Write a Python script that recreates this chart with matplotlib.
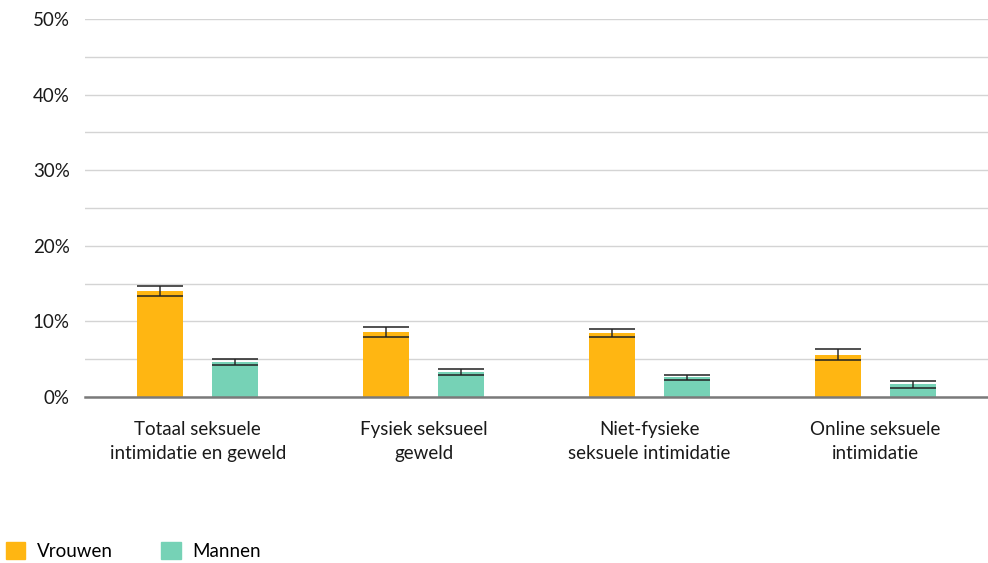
import matplotlib
matplotlib.use("Agg")
import matplotlib.pyplot as plt
import numpy as np
from matplotlib.patches import Patch

categories = ["Totaal seksuele\nintimidatie en geweld", "Fysiek seksueel\ngeweld",
              "Niet-fysieke\nseksuele intimidatie", "Online seksuele\nintimidatie"]
vrouwen = [14.0, 8.6, 8.5, 5.6]
vrouwen_lo = [13.4, 8.0, 7.9, 4.85]
vrouwen_hi = [14.7, 9.2, 9.0, 6.35]
mannen = [4.6, 3.3, 2.6, 1.7]
mannen_lo = [4.2, 2.9, 2.3, 1.2]
mannen_hi = [5.0, 3.7, 2.95, 2.1]
yticks = [0, 10, 20, 30, 40, 50]
ytick_labels = ["0%", "10%", "20%", "30%", "40%", "50%"]

c_v = "#FFB612"
c_m = "#76D2B6"

plt.rcParams['font.family'] = ['Lato', 'DejaVu Sans']
fs = 13.5

fig = plt.figure(figsize=(9.88, 5.63), dpi=100)
ax = fig.add_axes([85/988, 1-397/563, 1-85/988, (397-19)/563])

x = np.arange(len(categories))
w = 0.204
off = 0.166
ax.bar(x - off, vrouwen, width=w, color=c_v, zorder=2)
ax.bar(x + off, mannen, width=w, color=c_m, zorder=2)

for xs, vals, lo, hi in [(x - off, vrouwen, vrouwen_lo, vrouwen_hi), (x + off, mannen, mannen_lo, mannen_hi)]:
    v = np.array(vals); l = np.array(lo); h = np.array(hi)
    ax.errorbar(xs, v, yerr=[v - l, h - v], fmt='none', ecolor='#222222',
                elinewidth=1.2, capsize=16.5, capthick=1.3, zorder=3, alpha=0.85)

ax.set_xlim(-0.5, len(categories) - 0.5)
ax.set_ylim(0, 50)
ax.set_yticks(yticks)
ax.set_yticklabels(ytick_labels)
ax.set_yticks(np.arange(5, 50, 10), minor=True)
ax.grid(axis='y', which='both', color='#d4d4d4', linewidth=1, zorder=0)
ax.set_axisbelow(True)
ax.set_xticks(x)
ax.set_xticklabels(categories, fontsize=fs, color='#1a1a1a', linespacing=1.55)
ax.tick_params(axis='x', length=0, pad=17)
ax.tick_params(axis='y', which='both', length=0, pad=11, labelsize=fs, labelcolor='#1a1a1a')
for s in ['top', 'right', 'left']:
    ax.spines[s].set_visible(False)
ax.spines['bottom'].set_color('#7a7a7a')
ax.spines['bottom'].set_linewidth(1.8)
ax.spines['bottom'].set_zorder(4)

handles = [Patch(color=c_v, label="Vrouwen"), Patch(color=c_m, label="Mannen")]
fig.legend(handles=handles, loc='lower left', bbox_to_anchor=(0.003, 0.0), ncol=2,
           frameon=False, fontsize=fs, handlelength=1.05, handleheight=1.05,
           handletextpad=0.6, columnspacing=2.6, borderaxespad=0.0, borderpad=0.15)

fig.savefig("out.png", dpi=100)
